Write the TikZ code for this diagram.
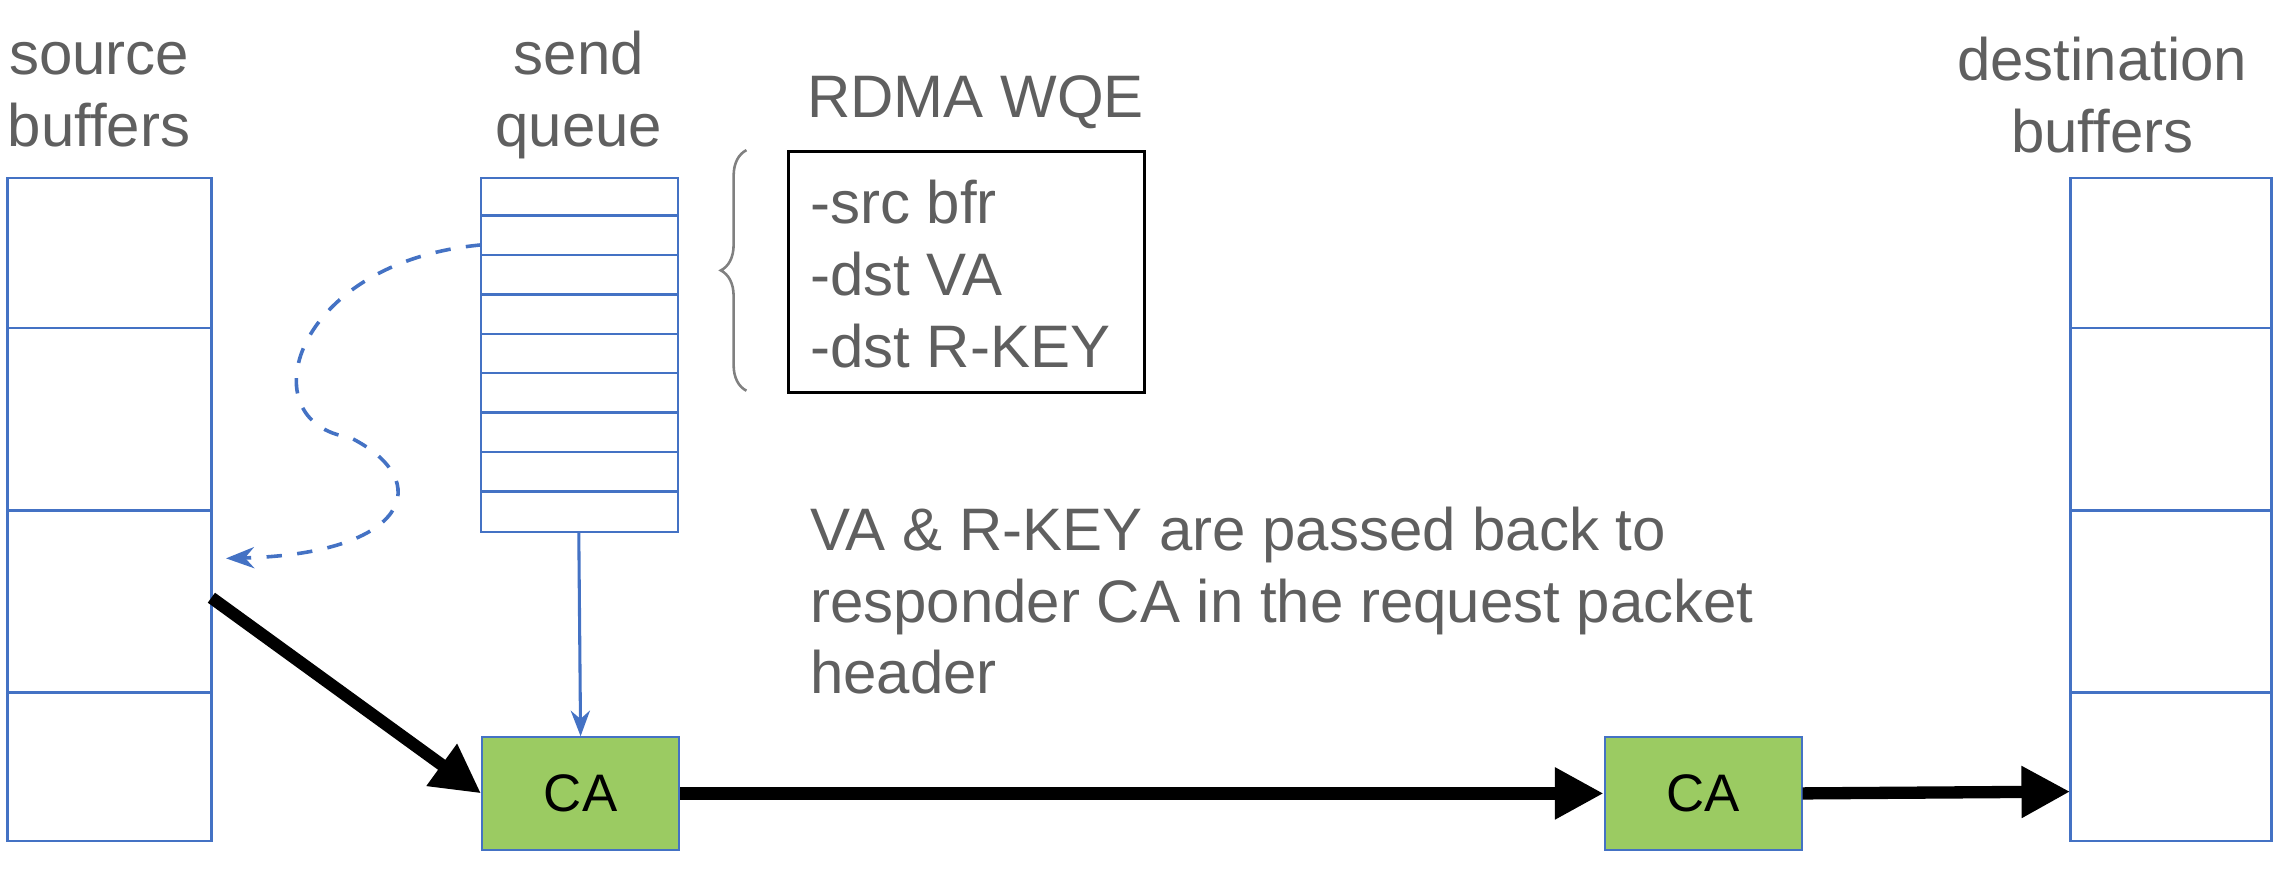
\documentclass[tikz,border=0pt]{standalone}
\usepackage{fontspec}
\setmainfont{Liberation Sans}
\usetikzlibrary{arrows.meta,decorations.pathreplacing}
\definecolor{txt}{HTML}{5F5F5F}
\definecolor{bl}{HTML}{4472C4}
\definecolor{gr}{HTML}{9BCB62}
\begin{document}
\begin{tikzpicture}[x=0.01cm,y=-0.01cm,
  lab/.style={text=txt,font=\fontsize{11.7}{14}\selectfont,align=center,inner sep=0},
  buf/.style={draw=bl,line width=0.5pt},
  ca/.style={draw=bl,fill=gr,minimum width=1.35cm,minimum height=0.77cm,inner sep=0,font=\fontsize{10.3}{12}\selectfont},
  big/.style={line width=2.4pt,-{Triangle[length=9.5pt,width=9.5pt]}}]
\useasboundingbox (0,0) rectangle (1568,613);
\node[lab] (sbl) at (68,65) {source\\buffers};
\node[lab] (sql) at (397,65) {send\\queue};
\node[lab,anchor=west] (rdma) at (553,70) {RDMA WQE};
\node[lab] (dbl) at (1442,65) {destination\\buffers};
% source buffers
\draw[buf] (5,122) rectangle (145,577);
\foreach \y in {225,350,475} \draw[buf] (5,\y) -- (145,\y);
% dest buffers
\draw[buf] (1420,122) rectangle (1558,577);
\foreach \y in {225,350,475} \draw[buf] (1420,\y) -- (1558,\y);
% send queue
\draw[buf] (330,122) rectangle (465,365);
\foreach \y in {148,175,202,229,256,283,310,337} \draw[buf] (330,\y) -- (465,\y);
\coordinate (sqb) at (397,365);
\coordinate (sqs) at (330,168);
\coordinate (sbt) at (155,383);
\coordinate (sbo) at (145,410);
\coordinate (dbi) at (1420,543);
% WQE
\node[draw=black,line width=0.6pt,minimum width=2.44cm,minimum height=1.65cm,anchor=north west] (wqe) at (540,103) {};
\node[lab,anchor=west,align=left] at (555,188) {\fontsize{11.7}{16.8}\selectfont -src bfr\\-dst VA\\-dst R-KEY};
\draw[gray,line width=0.5pt,decorate,decoration={brace,amplitude=5pt}] (512,268) -- (512,103);
% text
\node[lab,anchor=north west,align=left] at (555,347) {\fontsize{11.7}{17.1}\selectfont VA \& R-KEY are passed back to\\responder CA in the request packet\\header};
% CA
\node[ca,anchor=north west] (ca1) at (330,505) {CA};
\node[ca,anchor=north west] (ca2) at (1100,505) {CA};
\draw[bl,line width=0.6pt,-{Stealth[length=5pt]}] (sqb) -- (ca1.north);
\draw[bl,line width=0.7pt,dashed,-{Stealth[length=5.5pt]}] (sqs) .. controls (200,180) and (170,290) .. (240,300) .. controls (300,330) and (280,380) .. (sbt);
\draw[big] (sbo) -- (ca1.west);
\draw[big] (ca1.east) -- (ca2.west);
\draw[big] (ca2.east) -- (dbi);
\end{tikzpicture}
\end{document}
